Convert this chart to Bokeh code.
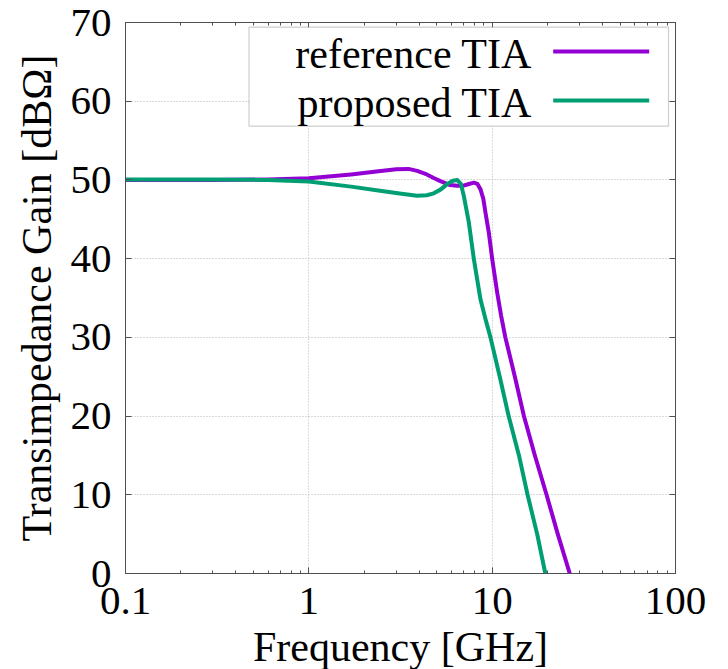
from bokeh.plotting import figure
from bokeh.models import (LogAxis, LinearAxis, FixedTicker, Range1d, BoxAnnotation,
                          Label, Arrow, CustomJSTickFormatter)
from bokeh.embed import file_html
from bokeh.resources import INLINE

# ---- data ----
freq_ref = [0.1, 0.3, 0.6, 1.0, 1.7, 2.4, 3.0, 3.5, 3.9, 4.4, 4.8, 5.22, 5.9, 6.44, 6.9,
            7.4, 7.94, 8.3, 8.64, 8.95, 9.2, 9.59, 10.0, 10.65, 11.2, 11.8, 13.3, 14.9, 17.1,
            19.8, 22.8, 26.5]
gain_ref = [50.0, 50.0, 50.05, 50.2, 50.7, 51.1, 51.35, 51.4, 51.15, 50.7, 50.25, 49.85, 49.35,
            49.25, 49.25, 49.45, 49.65, 49.5, 48.8, 47.6, 45.8, 43.3, 40.0, 35.7, 32.7, 30.0,
            25.0, 20.0, 15.0, 10.0, 5.0, 0.0]

freq_prop = [0.1, 0.28, 0.6, 1.0, 1.7, 2.5, 3.2, 3.9, 4.4, 4.8, 5.25, 5.7, 6.1, 6.44,
             6.75, 7.0, 7.46, 7.94, 8.28, 8.64, 9.2, 9.79, 11.0, 12.3, 14.0, 15.6, 17.6, 19.5]
gain_prop = [50.05, 50.05, 50.0, 49.8, 49.15, 48.6, 48.25, 48.0, 48.05, 48.3, 48.8, 49.5, 49.9,
             50.0, 49.5, 48.0, 44.6, 40.0, 37.4, 34.8, 32.3, 30.0, 25.0, 20.0, 15.0, 10.0, 5.0, 0.0]

series_names = ["reference TIA", "proposed TIA"]
series_colors = ["#9400D3", "#009E73"]

x_major = [0.1, 1, 10, 100]
x_minor = [0.2, 0.3, 0.4, 0.5, 0.6, 0.7, 0.8, 0.9, 2, 3, 4, 5, 6, 7, 8, 9,
           20, 30, 40, 50, 60, 70, 80, 90]
y_major = [0, 10, 20, 30, 40, 50, 60, 70]

FONT = "Liberation Serif"
AX = "#505050"

p = figure(frame_width=550, frame_height=551, x_axis_type="log",
           x_range=Range1d(0.1, 100), y_range=Range1d(0, 70),
           output_backend="svg", toolbar_location=None,
           min_border_left=125, min_border_top=22, min_border_right=40, min_border_bottom=90,
           x_axis_label="Frequency [GHz]", y_axis_label="Transimpedance Gain [dBΩ]")

p.outline_line_color = AX
p.outline_line_width = 1
p.background_fill_color = "white"
p.border_fill_color = "white"

fmt = CustomJSTickFormatter(code="return tick.toString();")

xax = p.xaxis[0]
xax.ticker = FixedTicker(ticks=x_major, minor_ticks=x_minor)
xax.formatter = fmt
yax = p.yaxis[0]
yax.ticker = FixedTicker(ticks=y_major)

for ax in (xax, yax):
    ax.axis_line_color = AX
    ax.major_tick_line_color = AX
    ax.minor_tick_line_color = AX
    ax.major_tick_in = 6
    ax.major_tick_out = 0
    ax.minor_tick_in = 3
    ax.minor_tick_out = 0
    ax.major_label_text_font = FONT
    ax.major_label_text_font_size = "41px"
    ax.major_label_text_color = "black"
    ax.axis_label_text_font = FONT
    ax.axis_label_text_font_size = "42px"
    ax.axis_label_text_font_style = "normal"
    ax.axis_label_text_color = "black"

yax.minor_tick_line_color = None
xax.major_label_standoff = 14
xax.axis_label_standoff = 7
yax.major_label_standoff = 14
yax.axis_label_standoff = 8

# mirrored ticks on top and right
top = LogAxis(ticker=FixedTicker(ticks=x_major, minor_ticks=x_minor), formatter=fmt)
right = LinearAxis(ticker=FixedTicker(ticks=y_major))
for ax in (top, right):
    ax.axis_line_color = AX
    ax.major_tick_line_color = AX
    ax.minor_tick_line_color = AX
    ax.major_tick_in = 6
    ax.major_tick_out = 0
    ax.minor_tick_in = 3
    ax.minor_tick_out = 0
    ax.major_label_text_font_size = "0px"
    ax.major_label_text_alpha = 0
    ax.major_label_standoff = 0
right.minor_tick_line_color = None
p.add_layout(top, "above")
p.add_layout(right, "right")

for g in (p.xgrid[0], p.ygrid[0]):
    g.grid_line_color = "#b4b4b4"
    g.grid_line_dash = "1 2"
    g.grid_line_width = 1
p.xgrid[0].ticker = FixedTicker(ticks=x_major)
p.ygrid[0].ticker = FixedTicker(ticks=y_major)

p.line(freq_ref, gain_ref, line_color=series_colors[0], line_width=4, line_join="round")
p.line(freq_prop, gain_prop, line_color=series_colors[1], line_width=4, line_join="round")

# ---- legend (text left, sample line right, as in the reference) ----
p.add_layout(BoxAnnotation(left=123.5, right=543, top=546.3, bottom=447.3,
                           left_units="screen", right_units="screen",
                           top_units="screen", bottom_units="screen",
                           fill_color="white", fill_alpha=1.0,
                           line_color="#606060", line_width=1.2, level="annotation"))
leg_y = [522, 473]
for name, col, yy in zip(series_names, series_colors, leg_y):
    p.add_layout(Label(x=406.5, y=yy - 2, x_units="screen", y_units="screen", text=name,
                       text_font=FONT, text_font_size="42px", text_align="right",
                       text_baseline="middle", text_color="black"))
    p.add_layout(Arrow(x_start=427.7, y_start=yy, x_end=523.7, y_end=yy,
                       start_units="screen", end_units="screen", start=None, end=None,
                       line_color=col, line_width=4))

open("out.html", "w").write(file_html(p, INLINE))
